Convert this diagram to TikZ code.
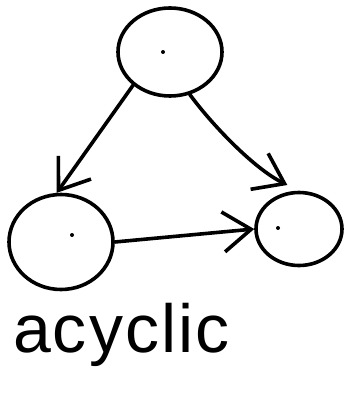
\documentclass[tikz,border=0pt]{standalone}
\usepackage{fontspec}
\setmainfont{Liberation Sans}
\usetikzlibrary{arrows.meta, shapes.geometric}

\begin{document}
\begin{tikzpicture}[
  x=1pt, y=-1pt,
  >={Straight Barb[length=28pt,width=40pt,quick]},
  vtx/.style={draw, ellipse, line width=3.6pt, inner sep=0pt},
  dot/.style={circle, fill, inner sep=0pt, minimum size=4pt},
  arr/.style={->, line width=3.6pt, line cap=round, line join=round},
]
\useasboundingbox (0,0) rectangle (349,409);
% Vertices
\node[vtx, minimum width=104pt, minimum height=88pt] (top)   at (170,52)  {};
\node[vtx, minimum width=104pt, minimum height=95pt] (left)  at (61,242)  {};
\node[vtx, minimum width=86pt,  minimum height=73pt] (right) at (299,229) {};
% Centre dots
\node[dot] (dtop)   at (163,52)  {};
\node[dot] (dleft)  at (72,235)  {};
\node[dot] (dright) at (278,228) {};
% Edges
\draw[arr] (top.222) -- (left.95);
\draw[arr, shorten >=13pt] (top.295) .. controls +(22,30) and +(-45,-22) .. (right.north);
\draw[arr] (left.east) -- (right.west);
% Caption
\node[anchor=base west, inner sep=0pt,
      font=\fontsize{68}{72}\selectfont\addfontfeature{LetterSpace=3}] (cap) at (13,352) {acyclic};
\end{tikzpicture}
\end{document}
